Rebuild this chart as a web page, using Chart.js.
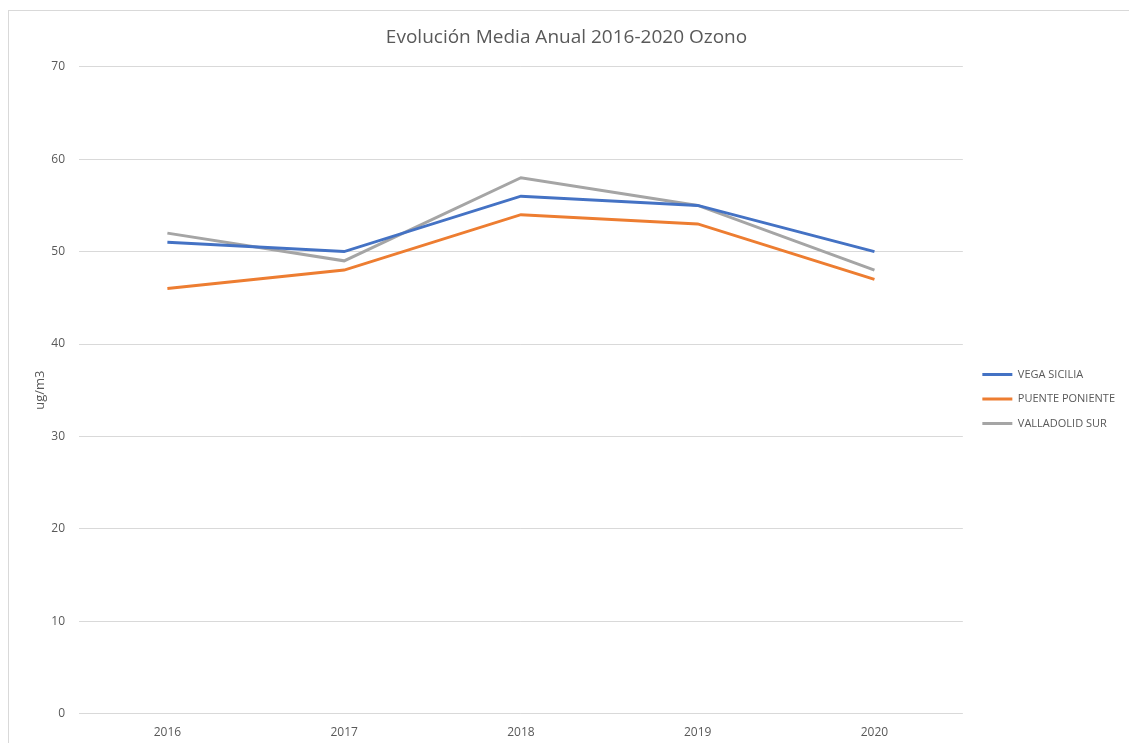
<!DOCTYPE html>
<html>
<head>
<meta charset="utf-8">
<script src="https://cdn.jsdelivr.net/npm/chart.js@4"></script>
<style>
    html, body { margin: 0; padding: 0; background: #fff; overflow: hidden; }
    #wrap { position: relative; width: 1129px; height: 743px; }
    #frame { position: absolute; left: 8px; top: 10px; width: 1140px; height: 800px; border: 1px solid #d9d9d9; }
    #chart { position: absolute; left: 0; top: 0; }
</style>
</head>
<body>
<div id="wrap">
    <div id="frame"></div>
    <canvas id="chart" width="1129" height="743"></canvas>
</div>
<script>
const years = ['2016', '2017', '2018', '2019', '2020'];
const vegaSicilia = [51, 50, 56, 55, 50];
const puentePoniente = [46, 48, 54, 53, 47];
const valladolidSur = [52, 49, 58, 55, 48];

const textColor = '#595959';
const gridColor = '#d9d9d9';
const fontFamily = '"Open Sans", "Liberation Sans", sans-serif';

// la leyenda queda un poco separada del área del gráfico
const legendShift = {
    id: 'legendShift',
    afterLayout(chart) {
        const lg = chart.legend;
        lg.left += 6; lg.right += 6;
        lg.top += 23; lg.bottom += 23;
    }
};

function serie(label, data, color) {
    return {
        label: label,
        data: data,
        borderColor: color,
        backgroundColor: color,
        borderWidth: 3,
        pointRadius: 0,
        tension: 0
    };
}

new Chart(document.getElementById('chart'), {
    type: 'line',
    data: {
        labels: years,
        datasets: [
            serie('VEGA SICILIA', vegaSicilia, '#4472c4'),
            serie('PUENTE PONIENTE', puentePoniente, '#ed7d31'),
            serie('VALLADOLID SUR', valladolidSur, '#a5a5a5')
        ]
    },
    options: {
        responsive: false,
        animation: false,
        layout: {
            padding: { left: 14, right: 10, top: 0, bottom: -9 }
        },
        scales: {
            x: {
                offset: true,
                grid: { display: false, drawTicks: false, tickLength: 0 },
                border: { display: false },
                ticks: { color: textColor, padding: 12, font: { family: fontFamily, size: 12 } }
            },
            y: {
                min: 0,
                max: 70,
                afterFit: (axis) => { axis.width = 65; },
                ticks: { stepSize: 10, color: textColor, padding: 14, font: { family: fontFamily, size: 12 } },
                grid: { color: gridColor, drawTicks: false, tickLength: 0 },
                border: { display: false },
                title: {
                    display: true,
                    text: 'ug/m3',
                    color: textColor,
                    padding: { top: 18, bottom: 4 },
                    font: { family: fontFamily, size: 13 }
                }
            }
        },
        plugins: {
            title: {
                display: true,
                text: 'Evolución Media Anual 2016-2020 Ozono',
                color: textColor,
                padding: { top: 26, bottom: 18 },
                font: { family: fontFamily, size: 19, weight: 'normal' }
            },
            legend: {
                position: 'right',
                labels: {
                    usePointStyle: true,
                    pointStyle: 'line',
                    pointStyleWidth: 30,
                    padding: 13.5,
                    color: textColor,
                    font: { family: fontFamily, size: 11 }
                }
            },
            tooltip: { enabled: false }
        }
    },
    plugins: [legendShift]
});
</script>
</body>
</html>
